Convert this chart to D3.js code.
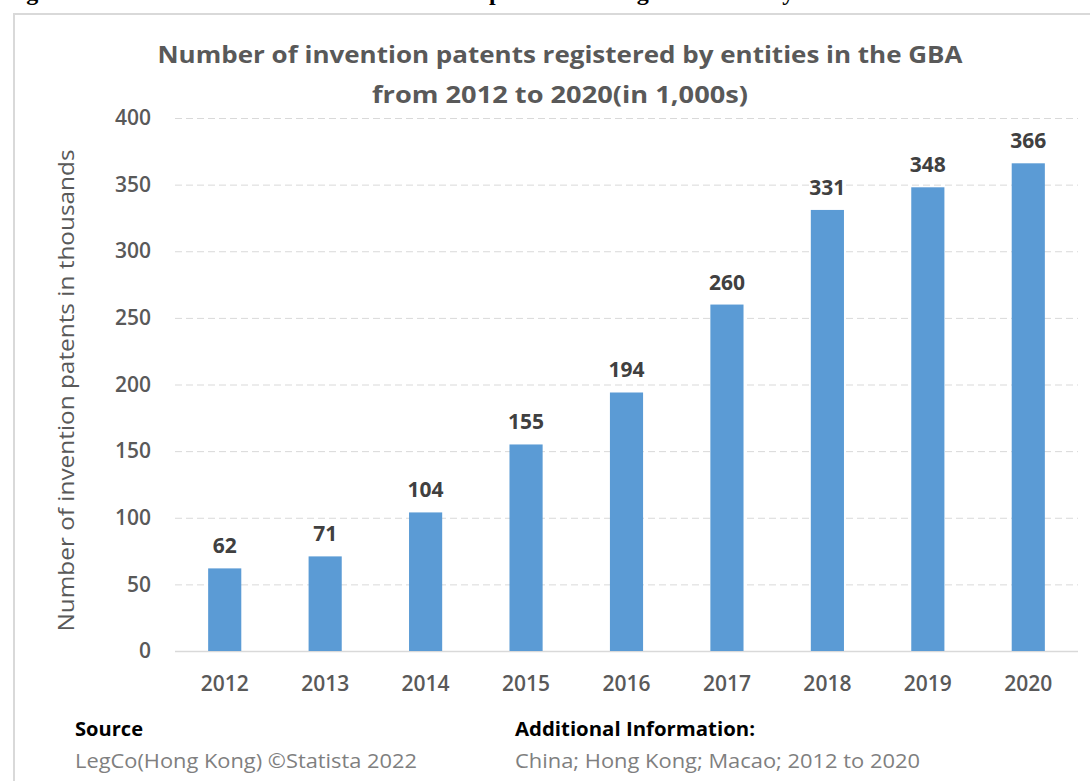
<!DOCTYPE html>
<html>
<head>
<meta charset="utf-8">
<script src="https://cdn.jsdelivr.net/npm/d3@7"></script>
<style>
  html, body { margin: 0; padding: 0; background: #fff; }
  svg { display: block; }
</style>
</head>
<body>
<div id="chart"></div>
<script>
const years = ['2012', '2013', '2014', '2015', '2016', '2017', '2018', '2019', '2020'];
const patents = [62, 71, 104, 155, 194, 260, 331, 348, 366];
const yTicks = [0, 50, 100, 150, 200, 250, 300, 350, 400];
const titleLines = ['Number of invention patents registered by entities in the GBA', 'from 2012 to 2020(in 1,000s)'];
const yTitle = 'Number of invention patents in thousands';
const sourceText = 'LegCo(Hong Kong) ©Statista 2022';
const infoText = 'China; Hong Kong; Macao; 2012 to 2020';
// cut-off caption above the frame (only descenders show, as in the scan)
const captionWords = [['Figure', 5], ['patents', 489], ['registered', 616], ['by', 769]];

const width = 1090;
const height = 781;
const margin = {top: 118, right: 12, bottom: 130, left: 175};
const font = "'Open Sans', 'Noto Sans', sans-serif";

const data = years.map((y, i) => ({year: y, value: patents[i]}));

const x = d3.scaleBand()
    .domain(years)
    .range([margin.left, width - margin.right])
    .paddingInner(0.67)
    .paddingOuter(0.33);

const y = d3.scaleLinear()
    .domain([0, 400])
    .range([height - margin.bottom, margin.top]);

const svg = d3.select('#chart').append('svg')
    .attr('width', width)
    .attr('height', height)
    .style('font-family', font);

// caption fragment at the very top
svg.append('g')
    .selectAll('text')
    .data(captionWords)
    .join('text')
    .attr('x', d => d[1])
    .attr('y', 0)
    .attr('font-family', "'Liberation Serif', 'DejaVu Serif', serif")
    .attr('font-weight', 'bold')
    .attr('font-size', 24)
    .attr('fill', '#000')
    .text(d => d[0]);

// frame
svg.append('path')
    .attr('d', `M14,${height} V14 H${width}`)
    .attr('fill', 'none')
    .attr('stroke', '#d9d9d9')
    .attr('stroke-width', 2);

// title
svg.append('g')
    .selectAll('text')
    .data(titleLines)
    .join('text')
    .attr('x', 560)
    .attr('y', (d, i) => 63 + i * 40)
    .attr('text-anchor', 'middle')
    .attr('font-weight', 'bold')
    .attr('font-size', 23)
    .attr('fill', '#595959')
    .attr('textLength', (d, i) => i === 0 ? 805 : 376)
    .attr('lengthAdjust', 'spacingAndGlyphs')
    .text(d => d);

// gridlines + y tick labels
const yAxis = g => g
    .attr('transform', `translate(${margin.left},0)`)
    .call(d3.axisLeft(y).tickValues(yTicks).tickSize(-(width - margin.right - margin.left)).tickPadding(24))
    .call(g => g.select('.domain').remove())
    .call(g => g.selectAll('.tick line')
        .attr('stroke', '#d9d9d9')
        .attr('stroke-width', d => d === 0 ? 1.5 : 1)
        .attr('stroke-dasharray', d => d === 0 ? null : '7,4'))
    .call(g => g.selectAll('.tick text')
        .attr('font-family', font)
        .attr('font-size', 21)
        .attr('font-weight', 600)
        .attr('fill', '#595959'));

svg.append('g').call(yAxis);

// bars
svg.append('g')
    .selectAll('rect')
    .data(data)
    .join('rect')
    .attr('x', d => x(d.year))
    .attr('y', d => y(d.value))
    .attr('width', x.bandwidth())
    .attr('height', d => y(0) - y(d.value))
    .attr('fill', '#5b9bd5');

// value labels
svg.append('g')
    .selectAll('text')
    .data(data)
    .join('text')
    .attr('x', d => x(d.year) + x.bandwidth() / 2)
    .attr('y', d => y(d.value) - 15)
    .attr('text-anchor', 'middle')
    .attr('font-size', 21)
    .attr('font-weight', 'bold')
    .attr('fill', '#404040')
    .text(d => d.value);

// x axis
const xAxis = g => g
    .attr('transform', `translate(0,${height - margin.bottom})`)
    .call(d3.axisBottom(x).tickSize(0).tickPadding(25))
    .call(g => g.select('.domain').remove())
    .call(g => g.selectAll('.tick text')
        .attr('font-family', font)
        .attr('font-size', 21)
        .attr('font-weight', 600)
        .attr('fill', '#595959'));

svg.append('g').call(xAxis);

// y axis title
svg.append('text')
    .attr('transform', `translate(74,${(y(0) + y(400)) / 2 + 6}) rotate(-90)`)
    .attr('text-anchor', 'middle')
    .attr('font-size', 22)
    .attr('fill', '#595959')
    .attr('textLength', 482)
    .attr('lengthAdjust', 'spacingAndGlyphs')
    .text(yTitle);

// footer
const footer = svg.append('g');
footer.append('text')
    .attr('x', 75).attr('y', 736)
    .attr('font-size', 20).attr('font-weight', 'bold').attr('fill', '#000')
    .attr('textLength', 68).attr('lengthAdjust', 'spacingAndGlyphs')
    .text('Source');
footer.append('text')
    .attr('x', 75).attr('y', 768)
    .attr('font-size', 20).attr('fill', '#7f7f7f')
    .attr('textLength', 342).attr('lengthAdjust', 'spacingAndGlyphs')
    .text(sourceText);
footer.append('text')
    .attr('x', 515).attr('y', 736)
    .attr('font-size', 20).attr('font-weight', 'bold').attr('fill', '#000')
    .attr('textLength', 240).attr('lengthAdjust', 'spacingAndGlyphs')
    .text('Additional Information:');
footer.append('text')
    .attr('x', 515).attr('y', 768)
    .attr('font-size', 20).attr('fill', '#7f7f7f')
    .attr('textLength', 405).attr('lengthAdjust', 'spacingAndGlyphs')
    .text(infoText);
</script>
</body>
</html>
